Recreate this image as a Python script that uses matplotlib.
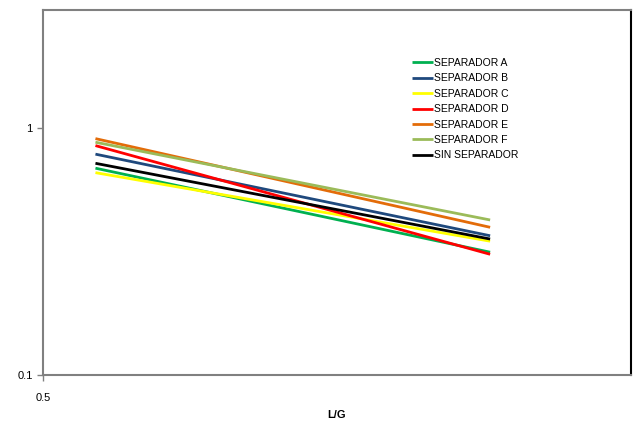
import matplotlib
matplotlib.use("Agg")
import matplotlib.pyplot as plt
from matplotlib.ticker import FixedLocator, FixedFormatter, NullLocator

plt.rcParams["font.family"] = ["Liberation Sans", "DejaVu Sans"]

# L/G range covered by the trend lines
lg = [0.614, 2.88]

# y values at the two ends of each line
sep_a = [0.687, 0.314]
sep_b = [0.783, 0.366]
sep_c = [0.659, 0.348]
sep_d = [0.848, 0.308]
sep_e = [0.905, 0.396]
sep_f = [0.875, 0.424]
sin_sep = [0.719, 0.355]

series = [
    ("SEPARADOR A", sep_a, "#00b050"),
    ("SEPARADOR B", sep_b, "#1f497d"),
    ("SEPARADOR C", sep_c, "#ffff00"),
    ("SEPARADOR D", sep_d, "#ff0000"),
    ("SEPARADOR E", sep_e, "#e36c09"),
    ("SEPARADOR F", sep_f, "#9bbb59"),
    ("SIN SEPARADOR", sin_sep, "#000000"),
]

fig = plt.figure(figsize=(6.35, 4.24), dpi=100)
ax = fig.add_axes([43 / 635, 1 - 375 / 424, 588 / 635, 365 / 424])

for name, vals, col in series:
    ax.plot(lg, vals, color=col, lw=2, label=name, solid_capstyle="butt")

ax.set_xscale("log")
ax.set_yscale("log")
ax.set_xlim(0.5, 5)
ax.set_ylim(0.1, 3)

ax.xaxis.set_major_locator(FixedLocator([0.5]))
ax.xaxis.set_major_formatter(FixedFormatter(["0.5"]))
ax.xaxis.set_minor_locator(NullLocator())
ax.yaxis.set_major_locator(FixedLocator([0.1, 1]))
ax.yaxis.set_major_formatter(FixedFormatter(["0.1", "1"]))
ax.yaxis.set_minor_locator(NullLocator())

ax.tick_params(axis="both", labelsize=8, colors="#808080", length=4, width=1,
               labelcolor="black")
ax.tick_params(axis="x", pad=9)

for side in ["left", "top", "bottom"]:
    ax.spines[side].set_color("#808080")
    ax.spines[side].set_linewidth(1.5)
ax.spines["right"].set_color("black")
ax.spines["right"].set_linewidth(1.5)

ax.set_xlabel("L/G", fontsize=8, fontweight="bold", labelpad=5)

leg = ax.legend(loc="upper left", bbox_to_anchor=(0.62, 0.88), frameon=False,
                fontsize=7.5, handlelength=2.0, handletextpad=0.15,
                labelspacing=0.52, borderaxespad=0)

fig.savefig("out.png", dpi=100)
